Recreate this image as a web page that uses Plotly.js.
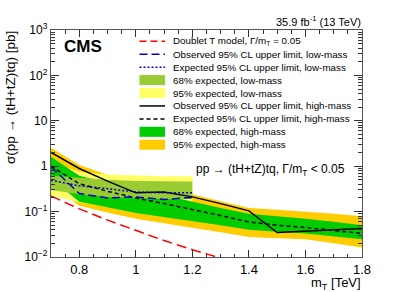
<!DOCTYPE html>
<html><head><meta charset="utf-8">
<script src="https://cdn.plot.ly/plotly-3.0.1.min.js"></script>
<style>html,body{margin:0;padding:0;background:#fff}</style>
</head><body><div id="chart" style="width:407px;height:292px"></div>
<script>
// ---- data ----
const massHigh = [0.7, 0.8, 0.9, 1.0, 1.1, 1.2, 1.3, 1.4, 1.5, 1.6, 1.7, 1.8];
const obsHigh = [2.02, 0.89, 0.47, 0.259, 0.27, 0.211, 0.15, 0.104, 0.0345, 0.037, 0.040, 0.0424];
const expHigh = [1.0, 0.41, 0.28, 0.2, 0.15, 0.112, 0.082, 0.059, 0.050, 0.0446, 0.038, 0.033];
const band68HighLo = [0.55, 0.165, 0.125, 0.093, 0.075, 0.062, 0.05, 0.040, 0.036, 0.033, 0.028, 0.0245];
const band68HighHi = [1.62, 0.62, 0.43, 0.30, 0.23, 0.165, 0.12, 0.09, 0.08, 0.070, 0.06, 0.050];
const band95HighLo = [0.40, 0.135, 0.095, 0.070, 0.055, 0.044, 0.035, 0.0276, 0.026, 0.0245, 0.020, 0.0162];
const band95HighHi = [2.55, 1.06, 0.65, 0.42, 0.32, 0.24, 0.17, 0.12, 0.11, 0.10, 0.09, 0.079];

const massLow = [0.7, 0.8, 0.9, 1.0, 1.1, 1.2];
const obsLow = [0.97, 0.25, 0.20, 0.21, 0.185, 0.205];
const expLow = [0.49, 0.37, 0.32, 0.27, 0.26, 0.26];
const band68LowLo = [0.30, 0.24, 0.21, 0.20, 0.19, 0.19];
const band68LowHi = [0.62, 0.55, 0.50, 0.47, 0.46, 0.46];
const band95LowLo = [0.23, 0.16, 0.13, 0.12, 0.115, 0.115];
const band95LowHi = [1.2, 0.75, 0.66, 0.62, 0.60, 0.60];

const massTheory = [0.7, 0.8, 0.9, 1.0, 1.1, 1.2, 1.3, 1.4, 1.5, 1.6, 1.7, 1.8];
const xsecTheory = [0.22, 0.115, 0.065, 0.038, 0.023, 0.0145, 0.0093, 0.006, 0.004, 0.0027, 0.0018, 0.0012];

const xTickVals = [0.8, 1.0, 1.2, 1.4, 1.6, 1.8];
const xTickText = ['0.8', '1', '1.2', '1.4', '1.6', '1.8'];
const yTickVals = [0.01, 0.1, 1, 10, 100, 1000];
const yTickText = ['10<sup>\u22122</sup>', '10<sup>\u22121</sup>', '1', '10', '10<sup>2</sup>', '10<sup>3</sup>'];

const legendLabels = [
  'Doublet T model, \u0393/m<sub>T</sub> = 0.05',
  'Observed 95% CL upper limit, low-mass',
  'Expected 95% CL upper limit, low-mass',
  '68% expected, low-mass',
  '95% expected, low-mass',
  'Observed 95% CL upper limit, high-mass',
  'Expected 95% CL upper limit, high-mass',
  '68% expected, high-mass',
  '95% expected, high-mass'
];

// ---- styles ----
const C = {
  orange: '#FFCC00', green: '#00CC00', lgreen: '#99CC33', lyellow: '#FFFF66',
  red: '#FF0000', blue: '#0000CC', black: '#000000'
};
const FONT = 'Liberation Sans, Arial, Helvetica, sans-serif';

function band(x, lo, hi, color) {
  return {
    x: x.concat(x.slice().reverse()),
    y: hi.concat(lo.slice().reverse()),
    type: 'scatter', mode: 'lines', fill: 'toself',
    fillcolor: color, line: {width: 0, color: color}, hoverinfo: 'skip', showlegend: false
  };
}
function line(x, y, color, dash, width) {
  return {x: x, y: y, type: 'scatter', mode: 'lines',
    line: {color: color, dash: dash, width: width}, showlegend: false};
}

const traces = [
  band(massHigh, band95HighLo, band95HighHi, C.orange),
  band(massLow, band95LowLo, band95LowHi, C.lyellow),
  band(massHigh, band68HighLo, band68HighHi, C.green),
  band(massLow, band68LowLo, band68LowHi, C.lgreen),
  line(massTheory, xsecTheory, C.red, '10px,5px', 1.5),
  line(massHigh, obsHigh, C.black, 'solid', 1.5),
  line(massHigh, expHigh, C.black, '4px,3px', 1.5),
  line(massLow, obsLow, C.blue, '8px,4px', 1.5),
  line(massLow, expLow, C.blue, '2px,2px', 1.5)
];

// ---- layout geometry (pixels) ----
const W = 407, H = 292;
const PL = 51, PR = 362, PT = 30, PB = 257;
const px = v => (v - PL) / (PR - PL);
const py = v => (PB - v) / (PB - PT);

const minorX = [];
for (let v = 0.75; v < 1.8; v += 0.05) minorX.push(+v.toFixed(2));
const minorY = [];
for (let e = -2; e < 3; e++) for (let k = 2; k <= 9; k++) minorY.push(k * Math.pow(10, e));

const shapes = [];
const annotations = [];
const legendSym = [
  {t: 'line', c: C.red, d: '7px,4px'},
  {t: 'line', c: C.blue, d: '8px,4px'},
  {t: 'line', c: C.blue, d: '2px,2px'},
  {t: 'box', c: C.lgreen},
  {t: 'box', c: C.lyellow},
  {t: 'line', c: C.black, d: 'solid'},
  {t: 'line', c: C.black, d: '4px,3px'},
  {t: 'box', c: C.green},
  {t: 'box', c: C.orange}
];
legendLabels.forEach((lab, i) => {
  const yc = 41.3 + i * 12.93;
  const s = legendSym[i];
  if (s.t === 'line') {
    shapes.push({type: 'line', xref: 'paper', yref: 'paper', x0: px(139.5), x1: px(165), y0: py(yc), y1: py(yc),
      line: {color: s.c, width: 1.5, dash: s.d}});
  } else {
    shapes.push({type: 'rect', xref: 'paper', yref: 'paper', x0: px(139.5), x1: px(165), y0: py(yc - 5), y1: py(yc + 5),
      fillcolor: s.c, line: {width: 0}});
  }
  annotations.push({xref: 'paper', yref: 'paper', x: px(170.5), y: py(yc), xanchor: 'left', yanchor: 'middle',
    text: lab, showarrow: false, font: {family: FONT, size: 9.8, color: '#000'}});
});

annotations.push({xref: 'paper', yref: 'paper', x: px(62), y: py(46), xanchor: 'left', yanchor: 'middle',
  text: '<b>CMS</b>', showarrow: false, font: {family: FONT, size: 17, color: '#000'}});
annotations.push({xref: 'paper', yref: 'paper', x: px(363), y: py(20.5), xanchor: 'right', yanchor: 'middle',
  text: '35.9 fb<sup>-1</sup> (13 TeV)', showarrow: false, font: {family: FONT, size: 11, color: '#000'}});
annotations.push({xref: 'paper', yref: 'paper', x: px(194), y: py(169.5), xanchor: 'left', yanchor: 'middle',
  text: 'pp \u2192 (tH+tZ)tq, \u0393/m<sub>T</sub> < 0.05', showarrow: false, font: {family: FONT, size: 12, color: '#000'}});
annotations.push({xref: 'paper', yref: 'paper', x: px(363), y: py(283), xanchor: 'right', yanchor: 'middle',
  text: 'm<sub>T</sub> [TeV]', showarrow: false, font: {family: FONT, size: 13, color: '#000'}});
annotations.push({xref: 'paper', yref: 'paper', x: px(10.5), y: py(29), xanchor: 'center', yanchor: 'top',
  textangle: -90, text: '\u03c3(pp \u2192 (tH+tZ)tq) [pb]', showarrow: false, font: {family: FONT, size: 13.5, color: '#000'}});

const axisCommon = {
  showgrid: false, zeroline: false, showline: true, linecolor: '#555', linewidth: 1.2,
  ticks: 'inside', mirror: 'allticks', tickcolor: '#333', tickwidth: 1
};

const layout = {
  width: W, height: H,
  margin: {l: PL, r: W - PR, t: PT, b: H - PB, pad: 0},
  paper_bgcolor: '#fff', plot_bgcolor: '#fff',
  showlegend: false,
  font: {family: FONT, color: '#000'},
  xaxis: Object.assign({}, axisCommon, {
    range: [0.7, 1.8], tickmode: 'array', tickvals: xTickVals, ticktext: xTickText, ticklen: 7,
    tickfont: {family: FONT, size: 13, color: '#000'},
    minor: {tickmode: 'array', tickvals: minorX, ticks: 'inside', ticklen: 3.5, tickcolor: '#333', showgrid: false}
  }),
  yaxis: Object.assign({}, axisCommon, {
    type: 'log', range: [-2, 3], tickmode: 'array', tickvals: yTickVals, ticktext: yTickText, ticklen: 8,
    tickfont: {family: FONT, size: 12, color: '#000'},
    minor: {tickmode: 'array', tickvals: minorY, ticks: 'inside', ticklen: 4, tickcolor: '#333', showgrid: false}
  }),
  shapes: shapes,
  annotations: annotations
};

Plotly.newPlot('chart', traces, layout, {staticPlot: true, displayModeBar: false});
</script></body></html>
